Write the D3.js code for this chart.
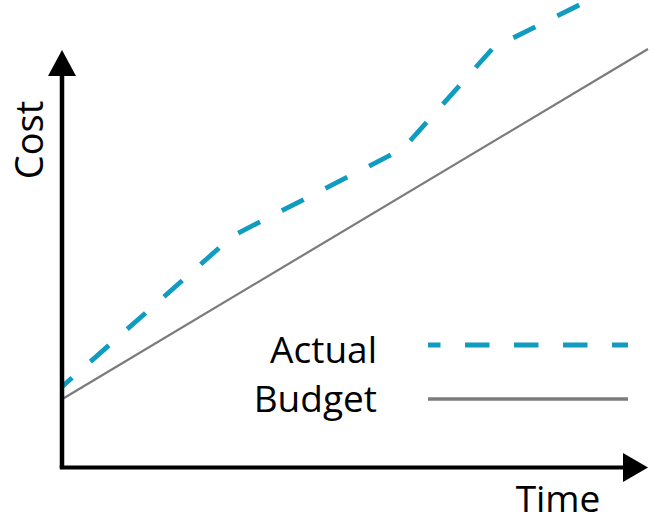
<!DOCTYPE html>
<html>
<head>
<meta charset="utf-8">
<script src="https://cdn.jsdelivr.net/npm/d3@7"></script>
<style>
  html, body { margin: 0; padding: 0; background: #fff; }
  svg { display: block; }
  text { font-family: "Open Sans", "Noto Sans", sans-serif; fill: #000; }
</style>
</head>
<body>
<svg id="chart" width="654" height="517"></svg>
<script>
// ---- data (unitless time / cost) ----
const actualTime = [0, 2.92, 5.82, 7.36, 10];
const actualCost = [1.93, 5.54, 7.62, 10.03, 11.87];
const budgetTime = [0, 10];
const budgetCost = [1.63, 10];
const seriesNames = ["Actual", "Budget"];
const axisLabels = ["Time", "Cost"];

const W = 654, H = 517;
const svg = d3.select("#chart");

const originX = 62, originY = 467.5;
const x = d3.scaleLinear().domain([0, 10]).range([originX, 648]);
const y = d3.scaleLinear().domain([0, 10]).range([originY, 49]);

const blue = "#0f9cc0";
const grey = "#7b7b7b";

svg.append("defs").append("clipPath").attr("id", "clip")
  .append("rect").attr("x", 0).attr("y", 0).attr("width", W).attr("height", H);

const line = d3.line().x(d => x(d[0])).y(d => y(d[1]));

// budget
svg.append("path")
  .datum(d3.zip(budgetTime, budgetCost))
  .attr("d", line)
  .attr("fill", "none")
  .attr("stroke", grey)
  .attr("stroke-width", 2.2);

// actual
svg.append("path")
  .datum(d3.zip(actualTime, actualCost))
  .attr("d", line)
  .attr("clip-path", "url(#clip)")
  .attr("fill", "none")
  .attr("stroke", blue)
  .attr("stroke-width", 4.8)
  .attr("stroke-dasharray", "24.5 24.5")
  .attr("stroke-dashoffset", 11);

// axes
const axisG = svg.append("g");
axisG.append("line")
  .attr("x1", originX).attr("y1", originY)
  .attr("x2", originX).attr("y2", 74)
  .attr("stroke", "#000").attr("stroke-width", 4.5);
axisG.append("line")
  .attr("x1", originX - 2.25).attr("y1", originY)
  .attr("x2", 624).attr("y2", originY)
  .attr("stroke", "#000").attr("stroke-width", 4.2);
axisG.append("path")
  .attr("d", `M${originX},50 L${originX - 14},76 L${originX + 14},76 Z`)
  .attr("fill", "#000");
axisG.append("path")
  .attr("d", `M648,${originY} L623,${originY - 14.5} L623,${originY + 14.5} Z`)
  .attr("fill", "#000");

// axis labels
svg.append("text")
  .attr("transform", "translate(43,140) rotate(-90)")
  .attr("text-anchor", "middle")
  .attr("font-size", 38)
  .text(axisLabels[1]);
svg.append("text")
  .attr("x", 558).attr("y", 512)
  .attr("text-anchor", "middle")
  .attr("font-size", 37)
  .text(axisLabels[0]);

// legend
const legend = svg.append("g");
const legY = [345, 399];
const legBase = [363, 412];
legend.selectAll("text").data(seriesNames).join("text")
  .attr("x", 377)
  .attr("y", (d, i) => legBase[i])
  .attr("text-anchor", "end")
  .attr("font-size", 37)
  .text(d => d);
legend.append("line")
  .attr("x1", 428).attr("x2", 628).attr("y1", legY[0]).attr("y2", legY[0])
  .attr("stroke", blue).attr("stroke-width", 4.8)
  .attr("stroke-dasharray", "24.5 24.5").attr("stroke-dashoffset", 12);
legend.append("line")
  .attr("x1", 428).attr("x2", 628).attr("y1", legY[1]).attr("y2", legY[1])
  .attr("stroke", grey).attr("stroke-width", 3.5);
</script>
</body>
</html>
